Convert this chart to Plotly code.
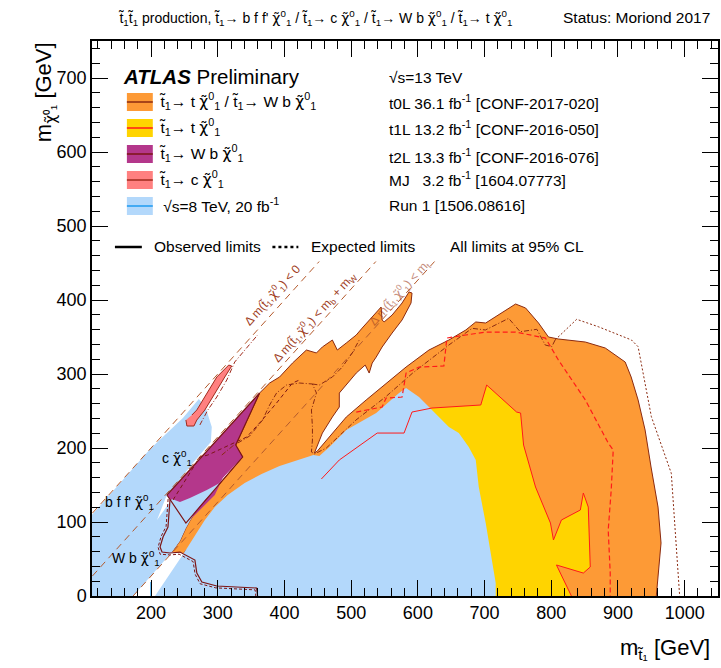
import plotly.graph_objects as go

# ---------------- data (GeV) ----------------
# t0L observed excluded region (orange)
T0L_OBS = [(231.3,59.4),(243.3,74.3),(252.2,91.9),(265.7,113.5),(280.6,129.7),(295.5,143.2),(307.5,156.7),
           (337.3,187.8),(326.9,204.0),(362.7,274.3),(377.7,287.8),(392.6,295.9),(412.0,314.8),(432.9,332.4),
           (447.9,328.4),(456.8,336.5),(471.8,345.9),(477.7,336.5),(479.2,332.4),(492.7,341.9),(507.6,352.7),
           (516.5,362.1),(527.0,373.0),(537.5,383.8),(544.9,390.5),(546.4,373.0),(549.4,370.3),(561.4,379.7),
           (576.3,395.9),(586.7,410.8),(591.2,409.4),(589.7,395.9),(576.3,373.0),(561.4,355.4),(546.4,336.5),
           (537.5,322.9),(531.5,314.8),(527.0,301.3),(521.0,312.1),(507.6,301.3),(482.2,274.3),(482.2,255.4),
           (471.8,241.9),(456.8,220.2),(449.3,204.0),(444.9,193.2),(449.3,195.9),(471.8,220.2),(492.7,241.9),
           (522.5,264.9),(552.4,287.8),(582.3,309.4),(616.6,332.4),(646.5,345.9),(671.9,359.5),(686.8,370.3),
           (701.7,368.9),(721.1,379.7),(746.5,394.6),(761.5,389.2),(780.9,368.9),(795.8,350.0),(810.7,347.3),
           (851.1,343.2),(881.0,335.1),(910.8,316.2),(919.8,295.9),(930.2,264.9),(940.7,224.3),(949.6,174.3),
           (960.1,120.2),(964.6,71.6),(960.1,25.6),(957.1,0),(957,-5),(690,-5),(680,150),(560,200),(470,175),
           (445,178),(420,170),(392,160),(365,150),(340,140),(315,125),(295,110),(280,93),(265,75),(249.2,58.1)]
# t1L observed contour (red) and excluded region (yellow)
T1L_OBS = [(455.3,158.1),(482.2,183.8),(539.0,220.2),(579.3,220.2),(591.2,248.6),(621.1,254.0),(694.3,258.1),
           (703.2,285.1),(748.0,248.6),(754.0,247.3),(758.5,204.0),(776.4,147.3),(798.8,98.6),(803.3,75.7),
           (815.2,102.7),(843.6,116.2),(848.1,139.2),(855.5,120.2),(858.5,39.2),(848.1,31.0),(807.8,41.9),(830.2,0)]
T1L_CLOSE = [(830.2,-5),(600,-5),(455.3,100)]
T1L_EXP = [(507.6,248.6),(546.4,255.4),(552.4,267.5),(576.3,268.9),(582.3,301.3),(601.7,309.4),(639.0,310.8),
           (643.5,348.6),(671.9,352.7),(701.7,356.7),(746.5,356.7),(791.3,348.6),(810.7,318.9),(851.1,264.9),
           (885.4,206.7),(892.9,197.3),(889.9,143.2),(885.4,89.2),(888.4,31.1),(888.4,0)]
# t2L (purple)
T2L_FILL = [(223.8,136.5),(362.7,274.3),(326.9,204.0),(337.3,187.8),(307.5,159.4),(295.5,136.5),(250.7,95.9)]
T2L_OBS = [(223.8,136.5),(252.2,98.6),(337.3,187.8),(326.9,204.0),(362.7,274.3),(223.8,136.5)]
T2L_OBS_LOW = [(228.3,129.7),(226.8,106.7),(225.3,93.2),(217.9,79.7),(213.4,66.2),(216.4,59.4),(228.3,58.1),
               (243.3,59.4),(265.7,48.6),(268.6,31.0),(276.1,18.9),(298.5,13.5),(358.2,10.8),(359.7,0)]
T2L_EXP_LOW = [(225.5,131.0),(224.0,107.0),(222.5,94.0),(215.0,80.5),(210.5,66.0),(213.5,56.5),(228.0,55.5),
               (242.0,56.5),(263.0,46.5),(266.0,29.5),(273.5,16.5),(297.0,11.0),(356.0,8.3),(357.0,0)]
T2L_EXP = [(232.8,129.7),(273.1,187.8),(285.1,190.5),(317.9,204.0),(343.3,214.8),(362.7,233.8),(388.1,260.8),
           (412.0,287.8),(422.5,291.9)]
# t0L expected
T0L_EXP = [(306.0,190.5),(322.4,202.7),(347.8,216.2),(367.2,237.8),(377.7,258.1),(388.1,274.3),(403.0,285.1),
           (422.5,287.8),(441.9,286.5),(447.9,274.3),(440.4,251.4),(441.9,228.4),(441.9,210.8),(440.4,194.6),
           (444.9,191.9),(462.8,200.0),(507.2,237.8),(551.9,269.3),(591.7,300.9),(646.5,339.2),(681.3,361.7),
           (701.3,359.5),(736.1,375.2),(753.5,357.1),(778.4,360.4),(790.9,339.2),(800.8,336.9),(805.8,346.0)]
T0L_EXP_B = [(441.9,286.5),(452.3,285.1),(471.8,295.9),(486.7,309.4),(501.6,328.4),(512.1,346.0)]
T0L_EXP_DOT = [(805.8,346.0),(810.7,350.4),(838.1,373.9),(870.5,363.9),(920.2,346.0),(930.2,336.9),
               (950.1,242.3),(980.0,165.8),(985.0,98.2),(992.5,0)]
# MJ (pink)
MJ_OBS = [(252.2,237.8),(253.7,229.7),(264.2,229.7),(268.6,237.8),(280.6,251.4),(295.5,274.3),(310.5,295.9),
          (320.9,310.8),(316.4,312.1),(298.5,295.9),(283.6,274.3),(268.6,251.4),(261.2,244.6)]
MJ_EXP = [(273.1,231.1),(285.1,251.4),(298.5,268.9),(313.5,291.9),(325.4,316.2),(347.8,339.2),(359.7,352.7)]
# Run 1 (light blue)
RUN1_A = [(100,-5),(100,98),(198.5,198.6),(247.7,240.5),(271.6,266.2),(282.1,254.0),(291.0,228.4),(289.6,208.1),
          (262.7,179.7),(240.3,154.0),(222.4,133.8),(208.9,102.7),(231.3,131.0),(243.3,127.0),(258.2,132.4),
          (283.6,143.2),(303.0,152.7),(307.5,159.4),(295.5,143.2),(280.6,129.7),(265.7,113.5),(252.2,91.9),
          (243.3,74.3),(231.3,59.4),(173.1,0),(170,-5)]
RUN1_B = [(205.9,-5),(205.9,0),(249.2,58.1),(265.7,82.4),(280.6,102.7),(295.5,120.2),(314.9,136.5),(340.3,152.7),
          (365.7,164.8),(392.6,175.6),(419.5,183.8),(434.4,187.8),(443.4,190.5),(452.3,189.2),
          (467.3,201.3),(492.7,224.3),(537.5,247.3),(571.8,274.3),(582.3,281.1),(601.7,268.9),
          (621.1,251.3),(646.5,228.4),(661.4,220.2),(676.3,201.3),(686.8,183.8),(691.3,147.3),(701.7,98.6),
          (710.7,52.7),(716.7,17.5),(716.7,-5)]
RUN1_LINE = [(200,0),(200,19)]
# kinematic boundaries
DM_ZERO = [(100,100),(452,452)]
DM_BW = [(100,15),(537,452)]
DM_TOP = [(173,0),(625,452)]

X_RANGE = [111.4, 1050]
Y_RANGE = [0, 750]

# ---------------- styles ----------------
FONT = "Liberation Sans, Arial, Helvetica, sans-serif"
C_ORANGE = "#fd9a36"
C_YELLOW = "#ffd400"
C_PURPLE = "#b4378b"
C_PINK = "#ff8080"
C_BLUE = "#b3d8fb"
C_BROWN = "#8b2a10"
C_MAROON = "#7d1515"
C_RED = "#ff1a1a"
C_KIN = "#b45a2c"

fig = go.Figure()


def xs(pts):
    return [p[0] for p in pts]


def ys(pts):
    return [p[1] for p in pts]


def area(pts, color, lc=None, lw=0):
    fig.add_trace(go.Scatter(x=xs(pts), y=ys(pts), fill="toself", fillcolor=color, mode="lines",
                             line=dict(color=lc or color, width=lw), hoverinfo="skip", showlegend=False))


def curve(pts, color, width=1, dash="solid"):
    fig.add_trace(go.Scatter(x=xs(pts), y=ys(pts), mode="lines",
                             line=dict(color=color, width=width, dash=dash),
                             hoverinfo="skip", showlegend=False))


area(T0L_OBS, C_ORANGE, C_BROWN, 1)
area(T1L_OBS + T1L_CLOSE, C_YELLOW)
area(T2L_FILL, C_PURPLE)
area(RUN1_A, C_BLUE)
area(RUN1_B, C_BLUE)
area(MJ_OBS, C_PINK, "#a02a1c", 1)

for ln in (DM_ZERO, DM_BW, DM_TOP):
    curve(ln, C_KIN, 1, "7px,5px")

curve(T2L_OBS, C_MAROON, 1.2)
curve(T2L_OBS_LOW, C_MAROON, 1.2)
curve(T2L_EXP_LOW, C_MAROON, 1, "3px,2px")
curve(T2L_EXP, C_MAROON, 1, "4px,3px")
curve(T0L_EXP, C_BROWN, 1, "5px,2px,1px,2px")
curve(T0L_EXP_B, C_BROWN, 1, "5px,2px,1px,2px")
curve(T0L_EXP_DOT, C_BROWN, 1, "2px,2px")
curve(MJ_EXP, "#a02a1c", 1, "5px,2px,1px,2px")
curve(T1L_OBS, C_RED, 1)
curve(T1L_EXP, C_RED, 1.2, "5px,3px")
curve(RUN1_LINE, "#1e9bf0", 1.5)

# ---------------- annotations ----------------
TT = "t\u0303<sub>1</sub>"
CHI = "<span style=\"font-family:'DejaVu Sans'\">\u03c7\u0303</span><sup>0</sup><sub>1</sub>"
ann = []


def px2paper(px, py):
    return (px - 92) / 628.0, (596 - py) / 555.0


def text(px, py, s, size=15.5, anchor="left", color="black", **kw):
    x, y = px2paper(px, py)
    ann.append(dict(x=x, y=y, xref="paper", yref="paper", text=s, showarrow=False, xanchor=anchor,
                    yanchor="middle", font=dict(family=FONT, size=size, color=color), **kw))


text(116, 18, f"{TT}{TT} production, {TT}\u2192 b f f' {CHI} / {TT}\u2192 c {CHI} / {TT}\u2192 W b {CHI} / {TT}\u2192 t {CHI}", 14)
text(714, 18, "Status: Moriond 2017", 15.5, anchor="right")
text(121, 76, "<b><i>ATLAS</i></b> Preliminary", 20.5)
rows = [(f"{TT}\u2192 t {CHI} / {TT}\u2192 W b {CHI}", C_ORANGE, C_BROWN),
        (f"{TT}\u2192 t {CHI}", C_YELLOW, C_RED),
        (f"{TT}\u2192 W b {CHI}", C_PURPLE, C_MAROON),
        (f"{TT}\u2192 c {CHI}", C_PINK, "#a02a1c"),
        (" \u221as=8 TeV, 20 fb<sup>-1</sup>", C_BLUE, "#1e9bf0")]
row_y = [102, 128, 154, 180, 206]
shapes = []
for (label, fc, lc), yc in zip(rows, row_y):
    x0, y0 = px2paper(127, yc + 9)
    x1, y1 = px2paper(153, yc - 9)
    shapes.append(dict(type="rect", xref="paper", yref="paper", x0=x0, x1=x1, y0=y0, y1=y1,
                       fillcolor=fc, line=dict(width=0)))
    shapes.append(dict(type="line", xref="paper", yref="paper", x0=x0, x1=x1, y0=(y0 + y1) / 2,
                       y1=(y0 + y1) / 2, line=dict(color=lc, width=1.5)))
    text(157, yc - 1, label, 15.5)

right_col = [("\u221as=13 TeV", 77), ("t0L 36.1 fb<sup>-1</sup> [CONF-2017-020]", 102),
             ("t1L 13.2 fb<sup>-1</sup> [CONF-2016-050]", 128), ("t2L 13.3 fb<sup>-1</sup> [CONF-2016-076]", 156),
             ("MJ   3.2 fb<sup>-1</sup> [1604.07773]", 179), ("Run 1 [1506.08616]", 206)]
for s, yc in right_col:
    text(388, yc, s, 15.5)

# observed / expected
lx0, ly = px2paper(115, 247)
lx1, _ = px2paper(142, 247)
shapes.append(dict(type="line", xref="paper", yref="paper", x0=lx0, x1=lx1, y0=ly, y1=ly,
                   line=dict(color="black", width=2.5)))
dx0, _ = px2paper(273, 247)
dx1, _ = px2paper(299, 247)
shapes.append(dict(type="line", xref="paper", yref="paper", x0=dx0, x1=dx1, y0=ly, y1=ly,
                   line=dict(color="black", width=2.5, dash="3px,3px")))
text(152, 246, "Observed limits", 15.5)
text(310, 246, "Expected limits", 15.5)
text(449, 246, "All limits at 95% CL", 15.5)

# in-plot labels
ann.append(dict(x=238.8, y=186.5, xref="x", yref="y", text=f"c {CHI}", showarrow=False,
                font=dict(family=FONT, size=14, color="black")))
ann.append(dict(x=167.1, y=127.0, xref="x", yref="y", text=f"b f f' {CHI}", showarrow=False,
                font=dict(family=FONT, size=14, color="black")))
ann.append(dict(x=177.5, y=51.3, xref="x", yref="y", text=f"W b {CHI}", showarrow=False,
                font=dict(family=FONT, size=14, color="black")))
DM = f"\u0394 m({TT},{CHI})"
ann.append(dict(x=382.2, y=406.7, xref="x", yref="y", text=f"{DM} < 0", showarrow=False, textangle=-47.9,
                font=dict(family=FONT, size=12, color="#a0401e")))
ann.append(dict(x=444.9, y=377.0, xref="x", yref="y", text=f"{DM} < m<sub>b</sub> + m<sub>W</sub>",
                showarrow=False, textangle=-47.9, font=dict(family=FONT, size=12, color="#a0401e")))
ann.append(dict(x=571.8, y=409.4, xref="x", yref="y", text=f"{DM} < m<sub>t</sub>", showarrow=False,
                textangle=-47.9, opacity=0.6, font=dict(family=FONT, size=12, color="#a0401e")))

# axis titles
tx, ty = px2paper(46, 92)
ann.append(dict(x=tx, y=ty, xref="paper", yref="paper",
                text="m<sub><span style=\"font-family:'DejaVu Sans'\">\u03c7\u0303</span>\u2070\u2081</sub> [GeV]",
                showarrow=False, textangle=-90, xanchor="center", yanchor="middle",
                font=dict(family=FONT, size=22, color="black")))
tx, ty = px2paper(714, 649)
ann.append(dict(x=tx, y=ty, xref="paper", yref="paper", text="m<sub>t\u0303\u2081</sub> [GeV]",
                showarrow=False, xanchor="right", yanchor="middle",
                font=dict(family=FONT, size=22, color="black")))

axis_common = dict(showgrid=False, zeroline=False, showline=True, linecolor="black", linewidth=1.5,
                   mirror="ticks", ticks="inside", ticklen=16, tickwidth=1, tickcolor="black",
                   tickfont=dict(family=FONT, size=18, color="black"), dtick=100, tick0=0,
                   minor=dict(ticks="inside", ticklen=8, tickwidth=1, tickcolor="black", dtick=20, tick0=0))
fig.update_layout(
    width=721, height=668, margin=dict(l=92, r=1, t=41, b=72),
    paper_bgcolor="white", plot_bgcolor="white",
    xaxis=dict(range=X_RANGE, **axis_common),
    yaxis=dict(range=Y_RANGE, **axis_common),
    annotations=ann, shapes=shapes, showlegend=False,
)
fig.write_html("out.html", config={"displayModeBar": False},
               post_script="document.body.style.margin='0';document.body.style.overflow='hidden';")
